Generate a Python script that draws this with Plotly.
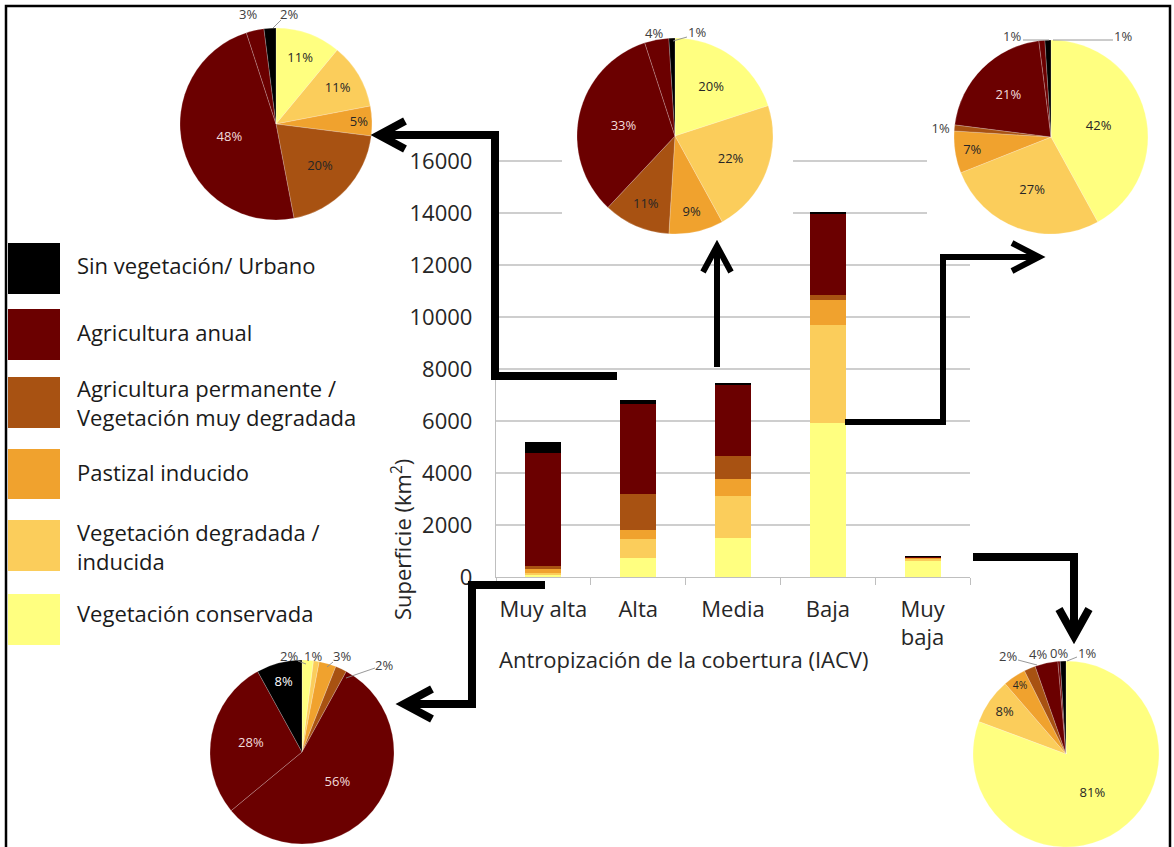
import plotly.graph_objects as go

W, H = 1174, 847

# ---- data -------------------------------------------------------------
categorias = ["Muy alta", "Alta", "Media", "Baja", "Muy<br>baja"]

# superficie (km2) por clase de antropización, de abajo hacia arriba en la pila
vegetacion_conservada = [105, 750, 1500, 5936, 645]
vegetacion_degradada = [50, 730, 1615, 3769, 64]
pastizal_inducido = [155, 340, 667, 962, 32]
agricultura_permanente = [105, 1360, 872, 166, 16]
agricultura_anual = [4370, 3480, 2718, 3116, 32]
sin_vegetacion = [415, 150, 90, 102, 8]

nombres = [
    "Vegetación conservada",
    "Vegetación degradada /<br>inducida",
    "Pastizal inducido",
    "Agricultura permanente /<br>Vegetación muy degradada",
    "Agricultura anual",
    "Sin vegetación/ Urbano",
]
colores = ["#FFFF80", "#FBCD5B", "#F0A22E", "#A85212", "#6B0000", "#000000"]

y_ticks = [0, 2000, 4000, 6000, 8000, 10000, 12000, 14000, 16000]
Y_MAX = 16200

# porcentajes de cada clase (sentido horario desde las 12)
pie_partes = ["Vegetación conservada", "Vegetación degradada", "Pastizal inducido",
              "Agricultura permanente", "Agricultura anual (a)", "Agricultura anual (b)",
              "Sin vegetación/ Urbano"]
pie_muy_alta = [2, 1, 3, 2, 56, 28, 8]
pie_alta = [11, 11, 5, 20, 48, 3, 2]
pie_media = [20, 22, 9, 11, 33, 4, 1]
pie_baja = [42, 27, 7, 1, 21, 1, 1]
pie_muy_baja = [81, 8, 4, 2, 4, 0.4, 1]

pie_colores = ["#FFFF80", "#FBCD5B", "#F0A22E", "#A85212", "#6B0000", "#6B0000", "#000000"]
pie_txt = ["#262626", "#262626", "#262626", "#262626", "#F2DCDB", "#F2DCDB", "#FFFFFF"]

FONT = "Open Sans"
DARK = "#262626"
LABEL_GREY = "#404040"
GRID = "#BEBEBE"

# plot area in pixels: 0 km2 at y=577, 16000 km2 at y=161
PX_LEFT, PX_RIGHT, PX_ZERO, PX_16K = 496, 970, 577, 161
PX_TOP = PX_ZERO - (PX_ZERO - PX_16K) * Y_MAX / 16000


def fx(px):
    return px / W


def fy(py):
    return 1 - py / H


def xcat(px):
    return (px - PX_LEFT) / ((PX_RIGHT - PX_LEFT) / len(categorias)) - 0.5


def yval(py):
    return (PX_ZERO - py) / (PX_ZERO - PX_16K) * 16000


fig = go.Figure()
shapes = []

# ---- stacked bars -----------------------------------------------------
series_vals = [vegetacion_conservada, vegetacion_degradada, pastizal_inducido,
               agricultura_permanente, agricultura_anual, sin_vegetacion]
for nombre, vals, col in zip(nombres, series_vals, colores):
    fig.add_trace(go.Bar(x=categorias, y=vals, name=nombre, marker_color=col,
                         marker_line_width=0, showlegend=False))


# ---- pies -------------------------------------------------------------
def add_pie(vals, cx, cy, r, positions, callouts):
    y0 = max(fy(cy + r), 0)
    y1 = fy(cy - r)
    fig.add_trace(go.Pie(
        values=vals, labels=pie_partes, sort=False, direction="clockwise", rotation=0,
        marker=dict(colors=pie_colores, line=dict(color="rgba(255,255,255,0.35)", width=0.6)),
        texttemplate="%{percent:.0%}", textposition=positions,
        insidetextorientation="horizontal",
        insidetextfont=dict(family=FONT, size=13, color=pie_txt),
        outsidetextfont=dict(family=FONT, size=13, color=LABEL_GREY),
        domain=dict(x=[fx(cx - r), fx(cx + r)], y=[y0, y1]),
        showlegend=False, hoverinfo="label+percent", automargin=False,
    ))
    total = sum(vals)
    # small slices labelled beside the pie, with an optional leader line
    for idx, lx, ly, leader in callouts:
        fig.add_annotation(x=fx(lx), y=fy(ly), xref="paper", yref="paper",
                           xanchor="center", yanchor="middle",
                           text=f"{round(100 * vals[idx] / total)}%", showarrow=False,
                           font=dict(family=FONT, size=13, color=LABEL_GREY))
        if leader:
            (ax0, ay0), (ax1, ay1) = leader
            shapes.append(dict(type="line", xref="paper", yref="paper",
                               x0=fx(ax0), y0=fy(ay0), x1=fx(ax1), y1=fy(ay1),
                               line=dict(color="#8C8C8C", width=0.9)))


I, O, N = "inside", "outside", "none"
add_pie(pie_alta, 276, 124, 96, [I, I, I, I, I, N, N],
        [(5, 248, 14, None), (6, 289, 14, ((281, 20), (273, 28)))])
add_pie(pie_media, 675, 136, 98, [I, I, I, I, I, N, N],
        [(5, 654, 33, None), (6, 697, 32, ((687, 37), (673, 41)))])
add_pie(pie_baja, 1051, 137, 97, [I, I, I, O, I, N, N],
        [(5, 1012, 36, ((1023, 40), (1049, 40))), (6, 1123, 36, ((1053, 40), (1113, 40)))])
add_pie(pie_muy_alta, 302, 752, 92, [N, N, N, N, I, I, I],
        [(0, 289, 656, ((298, 661), (306, 664))), (1, 313, 656, None),
         (2, 342, 656, ((333, 662), (327, 667))), (3, 384, 665, ((375, 668), (346, 678)))])
add_pie(pie_muy_baja, 1066, 754, 93, [I, I, I, N, N, N, N],
        [(3, 1008, 656, ((1018, 660), (1037, 665))), (4, 1038, 654, None),
         (5, 1059, 653, None), (6, 1087, 653, ((1077, 657), (1067, 661)))])

# ---- axes -------------------------------------------------------------
fig.update_layout(
    width=W, height=H, margin=dict(l=0, r=0, t=0, b=0, pad=0, autoexpand=False),
    paper_bgcolor="white", plot_bgcolor="white",
    barmode="stack", bargap=0.62, showlegend=False,
    font=dict(family=FONT, color=DARK),
    xaxis=dict(domain=[fx(PX_LEFT), fx(PX_RIGHT)], range=[-0.5, len(categorias) - 0.5],
               showline=True, linecolor="#BFBFBF", linewidth=1.3,
               ticks="outside", tickson="boundaries", ticklen=7, tickcolor="#BFBFBF",
               tickangle=0, automargin=False,
               tickfont=dict(size=22, color=DARK), ticklabelstandoff=12, fixedrange=True),
    yaxis=dict(domain=[fy(PX_ZERO), fy(PX_TOP)], range=[0, Y_MAX], tickvals=y_ticks,
               tickformat="d", showline=True, linecolor="#BFBFBF", linewidth=1.3,
               automargin=False, showgrid=False, zeroline=False,
               tickfont=dict(size=22, color=DARK), ticklabelstandoff=18, fixedrange=True),
)

# horizontal grid, interrupted where the white backing of the upper pies sits
pie_backs = [(562, 793, 240), (927, 1000, 245)]   # x from, x to, lower edge (px)
x_lo, x_hi = -0.5, len(categorias) - 0.5
for v in y_ticks[1:]:
    gaps = sorted((xcat(a), xcat(b)) for a, b, bottom in pie_backs if v >= yval(bottom))
    start = x_lo
    for g0, g1 in gaps:
        if g0 > start:
            shapes.append(dict(type="line", xref="x", yref="y", layer="below",
                               x0=start, x1=min(g0, x_hi), y0=v, y1=v,
                               line=dict(color=GRID, width=1.3)))
        start = max(start, g1)
    if start < x_hi:
        shapes.append(dict(type="line", xref="x", yref="y", layer="below",
                           x0=start, x1=x_hi, y0=v, y1=v,
                           line=dict(color=GRID, width=1.3)))

# legend swatches
leg_boxes = [(243, 294), (309, 360), (377, 428), (449, 499), (520, 571), (594, 645)]
leg_text_y = [265, 332, 402, 472, 546, 613]
leg_order = [5, 4, 3, 2, 1, 0]
for (t, b), ty, k in zip(leg_boxes, leg_text_y, leg_order):
    shapes.append(dict(type="rect", xref="paper", yref="paper", x0=fx(8), x1=fx(60),
                       y0=fy(b), y1=fy(t), fillcolor=colores[k], line_width=0))
    fig.add_annotation(x=fx(75), y=fy(ty), xref="paper", yref="paper", text=nombres[k],
                       showarrow=False, xanchor="left", yanchor="middle", align="left",
                       font=dict(size=22, color="#1A1A1A"))


# arrows linking each bar with its pie
def path(pts):
    return "M " + " L ".join(f"{fx(x):.5f},{fy(y):.5f}" for x, y in pts)

arrows = [
    ([(617, 376), (495, 376), (495, 135), (382, 135)], [(405, 121), (379, 135), (405, 149)], 8),
    ([(717, 367), (717, 250)], [(703, 272), (717, 246), (731, 272)], 6),
    ([(845, 422), (943, 422), (943, 257), (1036, 257)], [(1012, 243), (1039, 257), (1012, 271)], 6),
    ([(545, 585), (472, 585), (472, 704), (406, 704)], [(432, 689), (404, 704), (432, 719)], 8),
    ([(973, 557), (1074, 557), (1074, 632)], [(1059, 609), (1074, 636), (1089, 609)], 8),
]
for body, head, w in arrows:
    shapes.append(dict(type="path", xref="paper", yref="paper", path=path(body),
                       line=dict(color="black", width=w), layer="above"))
    shapes.append(dict(type="path", xref="paper", yref="paper", path=path(head),
                       line=dict(color="black", width=w), layer="above"))

# outer frame
shapes.append(dict(type="rect", xref="paper", yref="paper", x0=fx(6), x1=fx(1170),
                   y0=fy(855), y1=fy(6), line=dict(color="black", width=2.5),
                   fillcolor="rgba(0,0,0,0)", layer="above"))

fig.update_layout(shapes=shapes)

# axis titles
fig.add_annotation(x=fx(683), y=fy(659), xref="paper", yref="paper",
                   xanchor="center", yanchor="middle",
                   text="Antropización de la cobertura (IACV)", showarrow=False,
                   font=dict(size=22, color=DARK))
fig.add_annotation(x=fx(401), y=fy(540), xref="paper", yref="paper",
                   xanchor="center", yanchor="middle",
                   text="Superficie (km<sup>2</sup>)", showarrow=False, textangle=-90,
                   font=dict(size=22, color=DARK))

fig.write_html("out.html")
